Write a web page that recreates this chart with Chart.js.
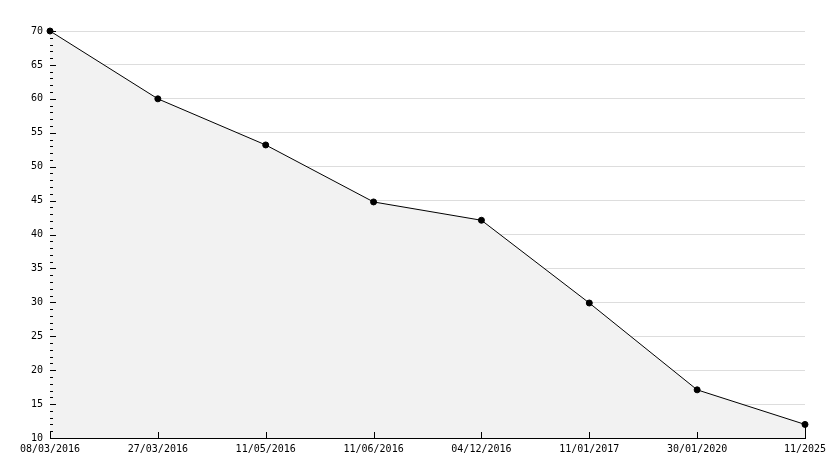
<!DOCTYPE html>
<html>
<head>
<meta charset="utf-8">
<script src="https://cdn.jsdelivr.net/npm/chart.js@4"></script>
<style>
  html, body { margin: 0; padding: 0; background: #fff; }
  #wrap { width: 834px; height: 468px; }
</style>
</head>
<body>
<div id="wrap"><canvas id="chart" width="834" height="468"></canvas></div>
<script>
const dates = ['08/03/2016', '27/03/2016', '11/05/2016', '11/06/2016', '04/12/2016', '11/01/2017', '30/01/2020', '11/2025'];
const values = [70, 60, 53.2, 44.8, 42.1, 29.9, 17.1, 12];
const yMin = 10;
const yMax = 70;
const yStep = 5;
const yMinorStep = 1;

// ticks drawn inside the plot, as in the original
const innerTicks = {
    id: 'innerTicks',
    afterDatasetsDraw(chart) {
        const ctx = chart.ctx;
        const x = chart.scales.x;
        const y = chart.scales.y;
        const area = chart.chartArea;
        ctx.save();
        ctx.strokeStyle = '#000';
        ctx.lineWidth = 1;
        ctx.beginPath();
        for (let v = yMin; v <= yMax; v += yMinorStep) {
            const py = Math.round(y.getPixelForValue(v)) + 0.5;
            const len = (v % yStep === 0) ? 6 : 3;
            ctx.moveTo(area.left, py);
            ctx.lineTo(area.left + len, py);
        }
        for (let i = 0; i < dates.length; i++) {
            const px = Math.round(x.getPixelForValue(i)) + 0.5;
            ctx.moveTo(px, area.bottom);
            ctx.lineTo(px, area.bottom - 6);
        }
        // closing edge of the filled area at the last point
        const pts = chart.getDatasetMeta(0).data;
        const last = pts[pts.length - 1];
        const lx = Math.round(last.x) + 0.5;
        ctx.moveTo(lx, last.y);
        ctx.lineTo(lx, area.bottom);
        ctx.stroke();
        ctx.restore();
    }
};

const ctx = document.getElementById('chart').getContext('2d');
new Chart(ctx, {
    type: 'line',
    data: {
        labels: dates,
        datasets: [{
            data: values,
            clip: false,
            borderColor: '#000',
            borderWidth: 1,
            backgroundColor: '#f2f2f2',
            fill: 'start',
            tension: 0,
            pointRadius: 3,
            pointBorderWidth: 1,
            pointBackgroundColor: '#000',
            pointBorderColor: '#000'
        }]
    },
    options: {
        responsive: false,
        animation: false,
        layout: { padding: { top: 31, right: 29, left: 0, bottom: 0 } },
        plugins: {
            legend: { display: false },
            tooltip: { enabled: false }
        },
        scales: {
            x: {
                afterFit: (scale) => { scale.height = 30; },
                grid: { display: false, drawTicks: false },
                border: { display: true, color: '#000', width: 1 },
                ticks: {
                    color: '#000',
                    padding: 5,
                    maxRotation: 0,
                    autoSkip: false,
                    font: { family: 'DejaVu Sans Mono', size: 10 }
                }
            },
            y: {
                min: yMin,
                max: yMax,
                afterFit: (scale) => { scale.width = 50; },
                grid: { color: '#dddddd', drawTicks: false },
                border: { display: true, color: '#000', width: 1 },
                ticks: {
                    stepSize: yStep,
                    color: '#000',
                    padding: 7,
                    font: { family: 'DejaVu Sans Mono', size: 10 }
                }
            }
        }
    },
    plugins: [innerTicks]
});
</script>
</body>
</html>
